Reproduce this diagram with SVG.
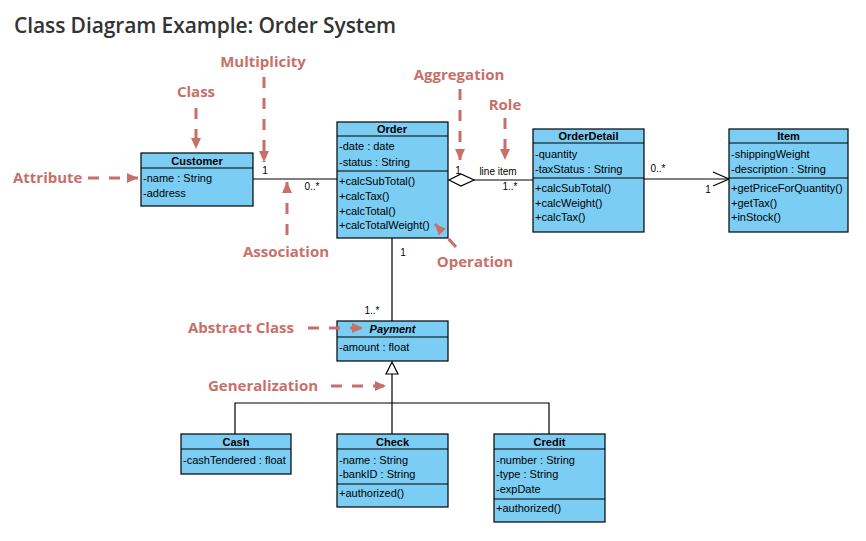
<svg xmlns="http://www.w3.org/2000/svg" width="866" height="541" viewBox="0 0 866 541">
<style>
.box{fill:#7BCDF3;stroke:#000;stroke-width:1.2}
.sep{stroke:#000;stroke-width:1.2}
.t{font-family:"Liberation Sans",Arial,sans-serif;font-size:11px;fill:#000}
.n{font-family:"Liberation Sans",Arial,sans-serif;font-size:11px;font-weight:bold;fill:#000;text-anchor:middle}
.m{font-family:"Liberation Sans",Arial,sans-serif;font-size:10px;fill:#000}
.c{stroke:#000;stroke-width:1.2;fill:none}
.ann{font-family:"Open Sans","Liberation Sans",sans-serif;font-size:15px;font-weight:bold;fill:#C96F69}
.aa{stroke:#C96F69;stroke-width:3;stroke-dasharray:11 10;fill:none}
</style>
<defs>
<marker id="ah" markerUnits="userSpaceOnUse" markerWidth="11" markerHeight="10" refX="11" refY="5" orient="auto">
<path d="M0,0 L11,5 L0,10 z" fill="#C96F69"/>
</marker>
</defs>
<rect width="866" height="541" fill="#fff"/>
<text x="14" y="33" font-family="'Open Sans','Liberation Sans',sans-serif" font-size="21" font-weight="600" fill="#333" textLength="382">Class Diagram Example: Order System</text>

<g id="connectors">
<line class="c" x1="253" y1="179" x2="337" y2="179"/>
<polygon points="449,180 461,174 474,180 461,186" fill="#fff" stroke="#000" stroke-width="1.2"/>
<line class="c" x1="474" y1="180" x2="533" y2="180"/>
<line class="c" x1="644" y1="179" x2="729" y2="179"/>
<polyline class="c" points="713,172 729,179 713,186"/>
<line class="c" x1="392" y1="238" x2="392" y2="321"/>
<polygon points="392,362 386,374 398,374" fill="#fff" stroke="#000" stroke-width="1.2"/>
<line class="c" x1="392" y1="374" x2="392" y2="434"/>
<polyline class="c" points="235,434 235,403 549,403 549,434"/>
<text class="m" x="265" y="174" text-anchor="middle">1</text>
<text class="m" x="312" y="190" text-anchor="middle">0..*</text>
<text class="m" x="458" y="174" text-anchor="middle">1</text>
<text class="m" x="498" y="175" text-anchor="middle">line item</text>
<text class="m" x="510" y="190" text-anchor="middle">1..*</text>
<text class="m" x="658" y="172" text-anchor="middle">0..*</text>
<text class="m" x="708" y="193" text-anchor="middle">1</text>
<text class="m" x="403" y="256" text-anchor="middle">1</text>
<text class="m" x="372" y="314" text-anchor="middle">1..*</text>
</g>

<g id="Customer">
<rect class="box" x="141" y="153" width="112" height="53"/>
<line class="sep" x1="141" y1="168" x2="253" y2="168"/>
<text class="n" x="197" y="165">Customer</text>
<text class="t" x="143" y="182">-name : String</text>
<text class="t" x="143" y="197">-address</text>
</g>

<g id="Order">
<rect class="box" x="337" y="122" width="111" height="116"/>
<line class="sep" x1="337" y1="136" x2="448" y2="136"/>
<line class="sep" x1="337" y1="171" x2="448" y2="171"/>
<text class="n" x="392" y="133">Order</text>
<text class="t" x="339" y="150">-date : date</text>
<text class="t" x="339" y="165.5">-status : String</text>
<text class="t" x="339" y="185">+calcSubTotal()</text>
<text class="t" x="339" y="200">+calcTax()</text>
<text class="t" x="339" y="214.5">+calcTotal()</text>
<text class="t" x="339" y="229">+calcTotalWeight()</text>
</g>

<g id="OrderDetail">
<rect class="box" x="533" y="129" width="111" height="103"/>
<line class="sep" x1="533" y1="143" x2="644" y2="143"/>
<line class="sep" x1="533" y1="178" x2="644" y2="178"/>
<text class="n" x="588.5" y="140">OrderDetail</text>
<text class="t" x="535" y="157.5">-quantity</text>
<text class="t" x="535" y="172.5">-taxStatus : String</text>
<text class="t" x="535" y="191.5">+calcSubTotal()</text>
<text class="t" x="535" y="206.5">+calcWeight()</text>
<text class="t" x="535" y="221">+calcTax()</text>
</g>

<g id="Item">
<rect class="box" x="729" y="129" width="119" height="103"/>
<line class="sep" x1="729" y1="143" x2="848" y2="143"/>
<line class="sep" x1="729" y1="178" x2="848" y2="178"/>
<text class="n" x="788.5" y="140">Item</text>
<text class="t" x="731" y="157.5">-shippingWeight</text>
<text class="t" x="731" y="172.5">-description : String</text>
<text class="t" x="731" y="191.5">+getPriceForQuantity()</text>
<text class="t" x="731" y="206.5">+getTax()</text>
<text class="t" x="731" y="221">+inStock()</text>
</g>

<g id="Payment">
<rect class="box" x="337" y="321" width="111" height="40"/>
<line class="sep" x1="337" y1="337" x2="448" y2="337"/>
<text class="n" x="392.5" y="333" font-style="italic">Payment</text>
<text class="t" x="339" y="350.5">-amount : float</text>
</g>

<g id="Cash">
<rect class="box" x="181" y="434" width="110" height="40"/>
<line class="sep" x1="181" y1="449" x2="291" y2="449"/>
<text class="n" x="236" y="446">Cash</text>
<text class="t" x="183" y="464">-cashTendered : float</text>
</g>

<g id="Check">
<rect class="box" x="337" y="434" width="111" height="73"/>
<line class="sep" x1="337" y1="449" x2="448" y2="449"/>
<line class="sep" x1="337" y1="484" x2="448" y2="484"/>
<text class="n" x="392.5" y="446">Check</text>
<text class="t" x="339" y="464">-name : String</text>
<text class="t" x="339" y="478">-bankID : String</text>
<text class="t" x="339" y="497">+authorized()</text>
</g>

<g id="Credit">
<rect class="box" x="494" y="434" width="111" height="88"/>
<line class="sep" x1="494" y1="449" x2="605" y2="449"/>
<line class="sep" x1="494" y1="499" x2="605" y2="499"/>
<text class="n" x="549.5" y="446">Credit</text>
<text class="t" x="496" y="464">-number : String</text>
<text class="t" x="496" y="478">-type : String</text>
<text class="t" x="496" y="493">-expDate</text>
<text class="t" x="496" y="512">+authorized()</text>
</g>

<g id="annotations">
<text class="ann" x="263" y="67" text-anchor="middle">Multiplicity</text>
<path class="aa" d="M264,77 L264,162" marker-end="url(#ah)"/>
<text class="ann" x="196" y="97" text-anchor="middle">Class</text>
<path class="aa" d="M196,108 L196,149" marker-end="url(#ah)"/>
<text class="ann" x="13" y="183">Attribute</text>
<path class="aa" d="M88,178 L138,178" marker-end="url(#ah)"/>
<text class="ann" x="286" y="257" text-anchor="middle">Association</text>
<path class="aa" d="M287,235 L287,182" marker-end="url(#ah)"/>
<text class="ann" x="459" y="80" text-anchor="middle">Aggregation</text>
<path class="aa" d="M460,89 L460,160" marker-end="url(#ah)"/>
<text class="ann" x="505" y="110" text-anchor="middle">Role</text>
<path class="aa" d="M505,118 L505,160" marker-end="url(#ah)"/>
<text class="ann" x="475" y="267" text-anchor="middle">Operation</text>
<path class="aa" d="M456,247 L435,224" stroke-dasharray="11 6" marker-end="url(#ah)"/>
<text class="ann" x="188" y="333">Abstract Class</text>
<path class="aa" d="M308,328 L363,328" marker-end="url(#ah)"/>
<text class="ann" x="208" y="391">Generalization</text>
<path class="aa" d="M331,386 L386,386" marker-end="url(#ah)"/>
</g>
</svg>
